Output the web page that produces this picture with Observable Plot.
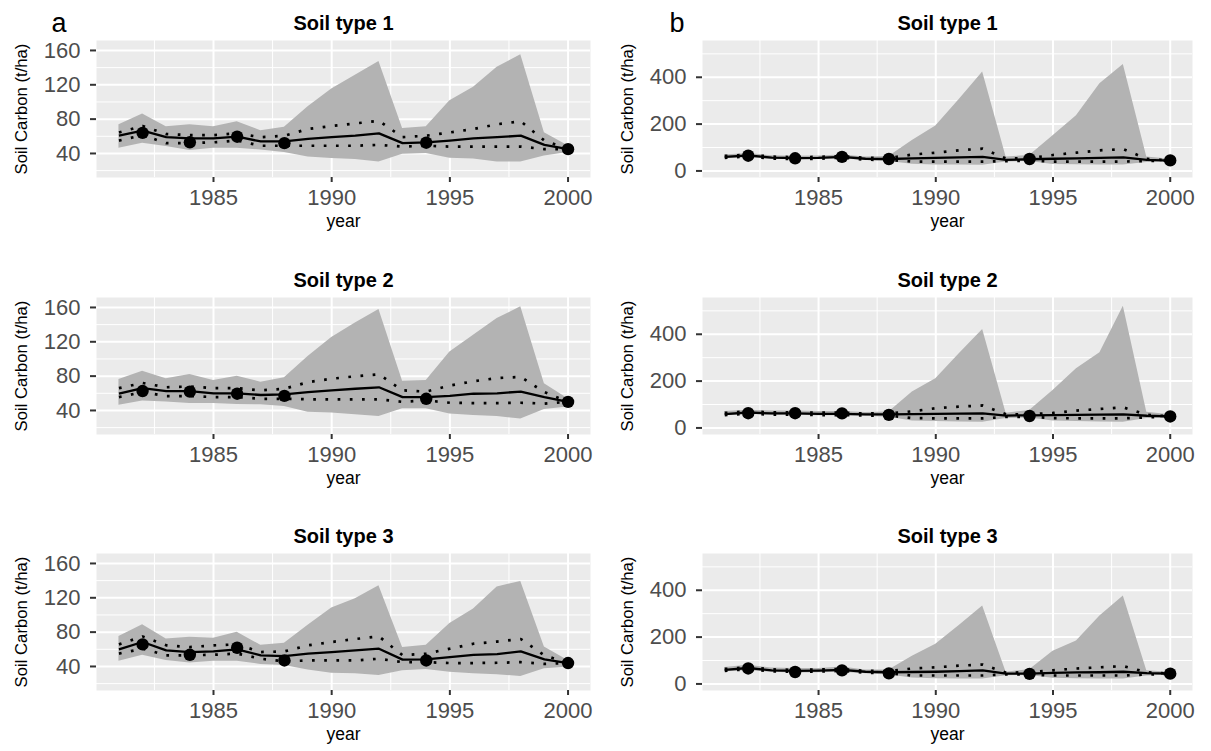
<!DOCTYPE html>
<html>
<head>
<meta charset="utf-8">
<script src="https://cdn.jsdelivr.net/npm/d3@7"></script>
<script src="https://cdn.jsdelivr.net/npm/@observablehq/plot@0.6"></script>
<style>
  html, body { margin: 0; padding: 0; background: #ffffff; }
  #root { position: relative; width: 1211px; height: 751px; overflow: hidden; font-family: "Liberation Sans", Arial, sans-serif; }
  .panel { position: absolute; }
</style>
</head>
<body>
<div id="root"></div>
<script>
// ---------- data ----------
const years = [1981,1982,1983,1984,1985,1986,1987,1988,1989,1990,1991,1992,1993,1994,1995,1996,1997,1998,1999,2000];
const obsYears = [1982,1984,1986,1988,1994,2000];
const soilTypes = ["Soil type 1","Soil type 2","Soil type 3"];
const panelLetters = ["a","b"];
const yTitle = "Soil Carbon (t/ha)";
const xTitle = "year";

const xMajorTicks = [1985,1990,1995,2000];
const xMinorTicks = [1982.5,1987.5,1992.5,1997.5];
const yMajorTicksA = [40,80,120,160];
const yMinorTicksA = [20,60,100,140];
const yMajorTicksB = [0,200,400];
const yMinorTicksB = [100,300,500];

// column a, soil type 1
const a1Hi  = [73.5,86,71,73.5,71,77,66.5,70.4,94.5,115,131,147,69,71,101.5,117,140.5,155,64,49];
const a1Lo  = [46,52,48,43.5,46,46,44,41,36,34,33,30,39,40,34.5,33.5,30,30,37,41];
const a1Med = [60.7,66.5,59,57.5,57.5,59.5,54,54,57,59,60.7,63.4,52,53,55,57.5,59,60.7,50,45];
const a1Q3  = [64.5,72,62.6,61.4,61.4,63.4,59,60.7,68.5,72,75,78,59,60.7,64.5,68.5,74,77.4,55,45];
const a1Q1  = [55,61.4,52,52,53,55,49,49,49,49,49,50,48,49,48,48,48,48,45,45];
const a1Obs = [64,53,59.5,52,52.5,45];
// column a, soil type 2
const a2Hi  = [76,85.6,77,82,75,79.8,73,78,103,125,142,157.7,74,75,108,127.7,147,160.8,71,53.6];
const a2Lo  = [46,51,50,48,48,47,46.6,44.7,38,37,35,33,42,42,36,34,33,30,41,44];
const a2Med = [59.5,66,62.6,62.6,60,60,58,58.7,61.4,63.4,65.3,67,55.6,55.6,57,59.5,60,62,55.6,50];
const a2Q3  = [66,72,67,68,66,66,63.4,65.3,73,77,79.8,82,63.4,62,69,74,77.8,79,61.4,50];
const a2Q1  = [55.6,61.4,56.8,56.8,55.6,55.6,53.6,53.6,53,53,53,53,50,51.7,49,48.6,48.6,49,48,50];
const a2Obs = [62.6,62,59.5,57,53.6,50];
// column a, soil type 3
const a3Hi  = [75,88.7,72,74,73,80,64.6,67,88,108,119,134,62,64.6,90,107,132.7,139,62.6,47];
const a3Lo  = [46,53,47,44,46,46,42.4,41,36,32,31.5,29.5,35,36.5,33.4,31.5,30.3,28.3,37.3,39];
const a3Med = [60,68.5,58.7,56.8,57.5,60,53,52,55,56.8,58.7,60.7,48,48.2,51,53.6,54.4,57.5,48.2,44];
const a3Q3  = [65.7,75,64.6,62.6,64.6,65.7,56.8,57.5,64.6,68.5,72,75,53,55,60.7,66.5,69,72,53,44];
const a3Q1  = [55,60.7,53,53,53.6,55,49,46,47,47,47,49,45,45,44,44,44.3,45,43,44];
const a3Obs = [65.7,53.6,61.8,47,47,44];
// column b, soil type 1
const b1Hi  = [68,74,65,63,64,68,60,62,130,192,305,422,60,66,150,236,372,455,60,50];
const b1Lo  = [52,58,50,48,49,52,45,40,29,25,25,24,38,40,28,26,25,25,36,40];
const b1Med = [60,66,57,55,56,60,52,51,54,56,58,60,47,50,52,54,56,58,47,44];
const b1Q3  = [64,70,61,59,60,63,56,55,70,78,88,95,53,55,68,78,88,93,52,44];
const b1Q1  = [56,62,53,51,52,57,48,47,40,40,40,40,42,44,40,40,40,40,42,44];
const b1Obs = [65,54,60,51,51,45];
// column b, soil type 2
const b2Hi  = [70,76,72,72,70,70,66,68,153,210,317,420,63,74,160,253,321,520,67,56];
const b2Lo  = [52,58,54,54,52,52,50,46,30,27,25,24,40,42,30,27,25,24,40,44];
const b2Med = [59,66,62,62,60,60,58,58,59,60,61,62,53,54,55,56,57,58,52,49];
const b2Q3  = [64,71,66,67,65,65,62,62,71,84,91,96,58,59,64,74,81,88,56,49];
const b2Q1  = [55,61,57,57,55,55,53,53,42,41,41,41,47,48,42,41,41,41,45,49];
const b2Obs = [63,63,62,56,51,49];
// column b, soil type 3
const b3Hi  = [70,80,68,66,66,72,60,60,118,170,250,333,50,61,140,183,290,376,56,50];
const b3Lo  = [52,56,50,47,48,50,44,38,25,22,21,21,35,36,24,22,21,21,34,38];
const b3Med = [60,68,58,56,57,60,52,50,51,52,55,58,44,44,47,49,50,52,46,44];
const b3Q3  = [64,72,62,60,62,64,56,55,66,71,78,83,48,50,58,66,71,76,50,44];
const b3Q1  = [56,63,54,52,53,56,48,46,36,36,36,36,41,40,36,36,36,36,40,44];
const b3Obs = [66,51,58,45,43,44];

// ---------- layout ----------
const FONT = "'Liberation Sans', Arial, Helvetica, sans-serif";
const rowTops = [0, 256.7, 513.3];
const cols = [
  {left: 0,   width: 605, marginLeft: 96, marginRight: 15, yDomain: [12, 171.6], yMajor: yMajorTicksA, yMinor: yMinorTicksA, letterDx: -45},
  {left: 605, width: 606, marginLeft: 97, marginRight: 19, yDomain: [-28, 557], yMajor: yMajorTicksB, yMinor: yMinorTicksB, letterDx: -33}
];
const series = [
  [[a1Hi,a1Lo,a1Med,a1Q3,a1Q1,a1Obs],[a2Hi,a2Lo,a2Med,a2Q3,a2Q1,a2Obs],[a3Hi,a3Lo,a3Med,a3Q3,a3Q1,a3Obs]],
  [[b1Hi,b1Lo,b1Med,b1Q3,b1Q1,b1Obs],[b2Hi,b2Lo,b2Med,b2Q3,b2Q1,b2Obs],[b3Hi,b3Lo,b3Med,b3Q3,b3Q1,b3Obs]]
];

function makePanel(ci, ri) {
  const c = cols[ci];
  const [hi, lo, med, q3, q1, obs] = series[ci][ri];
  const rows = years.map((y, i) => ({year: y, hi: hi[i], lo: lo[i], med: med[i], q3: q3[i], q1: q1[i]}));
  const obsRows = obsYears.map((y, i) => ({year: y, val: obs[i]}));
  const dotted = {stroke: "#000", strokeWidth: 2.7, strokeDasharray: "2.7 9.5", strokeLinecap: "butt", strokeLinejoin: "miter"};
  const marks = [
    Plot.frame({fill: "#EBEBEB", stroke: "none"}),
    Plot.ruleX(xMinorTicks, {stroke: "#ffffff", strokeWidth: 1}),
    Plot.ruleY(c.yMinor, {stroke: "#ffffff", strokeWidth: 1}),
    Plot.ruleX(xMajorTicks, {stroke: "#ffffff", strokeWidth: 2}),
    Plot.ruleY(c.yMajor, {stroke: "#ffffff", strokeWidth: 2}),
    Plot.areaY(rows, {x: "year", y1: "lo", y2: "hi", fill: "#B3B3B3"}),
    Plot.lineY(rows, {x: "year", y: "q3", ...dotted}),
    Plot.lineY(rows, {x: "year", y: "q1", ...dotted}),
    Plot.lineY(rows, {x: "year", y: "med", stroke: "#000", strokeWidth: 2.3, strokeLinecap: "butt"}),
    Plot.dot(obsRows, {x: "year", y: "val", r: 6.2, fill: "#000", stroke: "none"}),
    Plot.axisX({ticks: xMajorTicks, tickFormat: d => String(d), tickSize: 5, tickPadding: 7, strokeWidth: 2, stroke: "#333333", fill: "#4D4D4D", fontSize: 22, label: null}),
    Plot.axisY({ticks: c.yMajor, tickFormat: d => String(d), tickSize: 6, tickPadding: 10, strokeWidth: 2, stroke: "#333333", fill: "#4D4D4D", fontSize: 22, label: null}),
    Plot.text([soilTypes[ri]], {text: d => d, frameAnchor: "top", dy: -25, fontSize: 20, fontWeight: "bold", fill: "#000"}),
    Plot.text([xTitle], {text: d => d, frameAnchor: "bottom", dy: 49.5, fontSize: 17.5, fill: "#000"}),
    Plot.text([yTitle], {text: d => d, frameAnchor: "left", dx: -75, rotate: -90, textAnchor: "middle", fontSize: 16.7, fill: "#000"})
  ];
  if (ri === 0) {
    marks.push(Plot.text([panelLetters[ci]], {text: d => d, frameAnchor: "top-left", dx: c.letterDx, dy: -27.5, textAnchor: "start", fontSize: 27, fill: "#000"}));
  }
  const svg = Plot.plot({
    width: c.width,
    height: 237,
    marginTop: 40,
    marginBottom: 60,
    marginLeft: c.marginLeft,
    marginRight: c.marginRight,
    x: {domain: [1980.05, 2000.95]},
    y: {domain: c.yDomain},
    style: {fontFamily: FONT, background: "transparent", overflow: "visible"},
    marks
  });
  const div = document.createElement("div");
  div.className = "panel";
  div.style.left = c.left + "px";
  div.style.top = rowTops[ri] + "px";
  div.appendChild(svg);
  document.getElementById("root").appendChild(div);
}

for (let ci = 0; ci < 2; ci++) for (let ri = 0; ri < 3; ri++) makePanel(ci, ri);
</script>
</body>
</html>
